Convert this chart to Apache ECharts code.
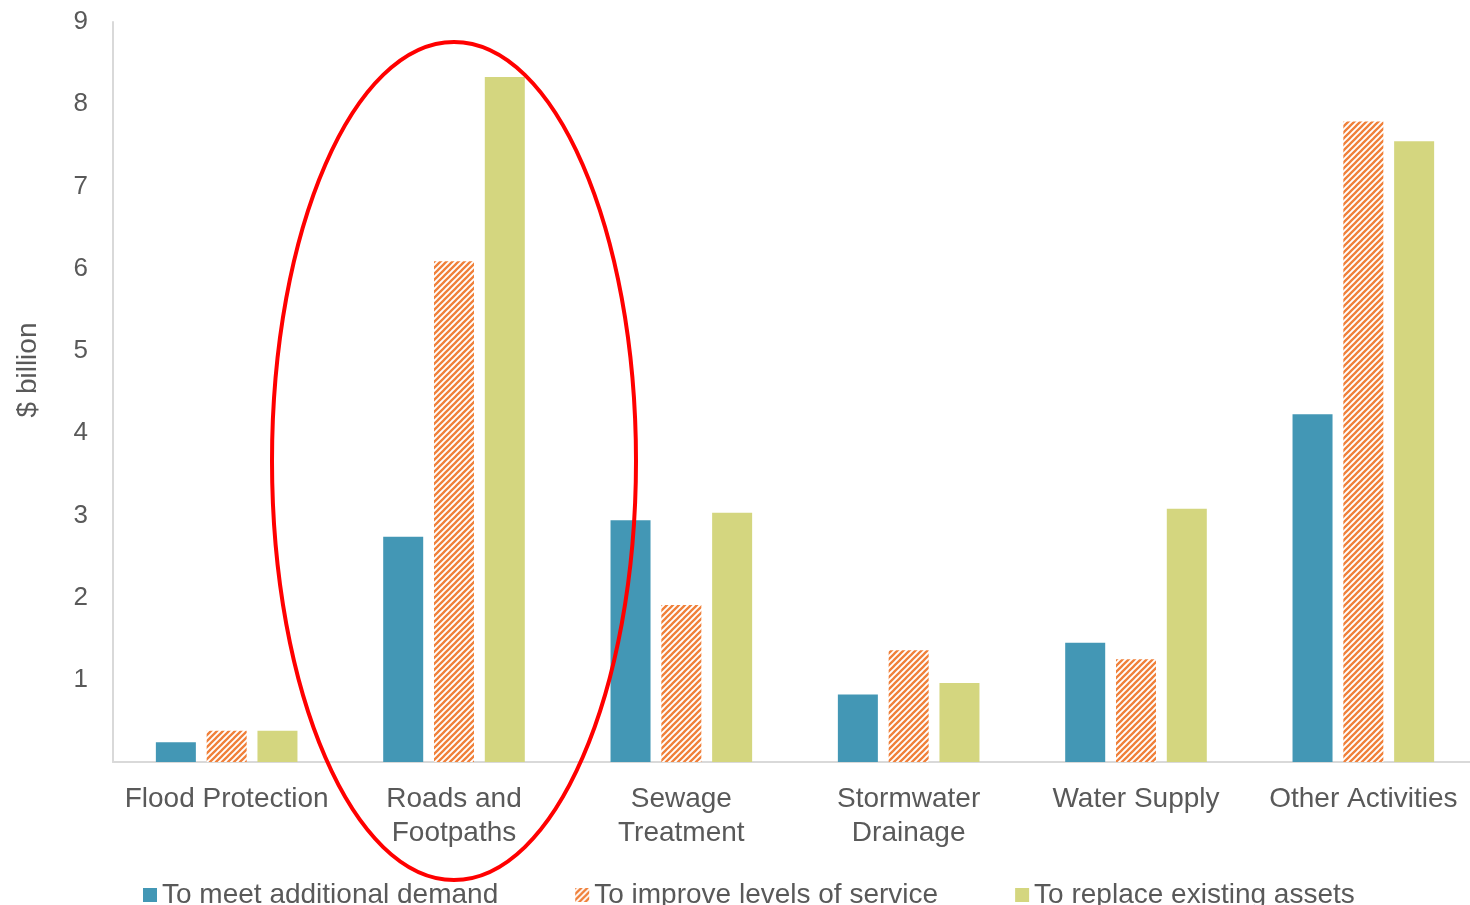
<!DOCTYPE html>
<html>
<head>
    <meta charset="utf-8">
    <title>Capital expenditure by activity</title>
    <script src="https://cdn.jsdelivr.net/npm/echarts@6/dist/echarts.min.js"></script>
    <style>
        html, body { margin: 0; padding: 0; background: #fff; }
        #main { width: 1470px; height: 905px; }
    </style>
</head>
<body>
<div id="main"></div>
<script type="text/javascript">
    // data ($ billion)
    var categories = ['Flood Protection', 'Roads and\nFootpaths', 'Sewage\nTreatment', 'Stormwater\nDrainage', 'Water Supply', 'Other Activities'];
    var seriesNames = ['To meet additional demand', 'To improve levels of service', 'To replace existing assets'];
    var demand = [0.24, 2.74, 2.94, 0.82, 1.45, 4.23];
    var service = [0.38, 6.09, 1.91, 1.36, 1.25, 7.79];
    var replace = [0.38, 8.33, 3.03, 0.96, 3.08, 7.55];
    var yTicks = [0, 1, 2, 3, 4, 5, 6, 7, 8, 9];

    // hatched fill for the "improve" series
    var tile = document.createElement('canvas');
    tile.width = 6;
    tile.height = 6;
    var ctx = tile.getContext('2d');
    ctx.fillStyle = '#ffffff';
    ctx.fillRect(0, 0, 6, 6);
    ctx.strokeStyle = '#F0803A';
    ctx.lineWidth = 2.3;
    ctx.beginPath();
    ctx.moveTo(-1, 7); ctx.lineTo(7, -1);
    ctx.moveTo(-1, 1); ctx.lineTo(1, -1);
    ctx.moveTo(5, 7); ctx.lineTo(7, 5);
    ctx.stroke();

    var myChart = echarts.init(document.getElementById('main'));
    var font = '"Liberation Sans", Arial, sans-serif';

    var option = {
        animation: false,
        textStyle: { fontFamily: font },
        grid: { left: 113, right: -7, top: 22, bottom: 143, outerBoundsMode: 'none' },
        legend: {
            data: seriesNames,
            left: 138,
            top: 876,
            itemWidth: 14,
            itemHeight: 14,
            itemGap: 77,
            icon: 'rect',
            textStyle: { fontSize: 28, color: '#595959', fontFamily: font }
        },
        xAxis: {
            type: 'category',
            data: categories,
            axisLine: { lineStyle: { color: '#d9d9d9', width: 2 } },
            axisTick: { show: false },
            axisLabel: { color: '#595959', fontSize: 28, lineHeight: 34, margin: 20, interval: 0 }
        },
        yAxis: {
            type: 'value',
            min: 0,
            max: 9,
            interval: 1,
            name: '$ billion',
            nameLocation: 'middle',
            nameGap: 71,
            nameTextStyle: { color: '#595959', fontSize: 28, padding: [0, 0, 0, 44] },
            axisLine: { show: true, lineStyle: { color: '#d9d9d9', width: 2 } },
            axisTick: { show: false },
            splitLine: { show: false },
            axisLabel: {
                color: '#595959', fontSize: 26, margin: 25,
                formatter: function (v) { return yTicks.indexOf(v) > 0 ? String(v) : ''; }
            }
        },
        series: [
            {
                name: seriesNames[0], type: 'bar', data: demand,
                barWidth: 40, barGap: '27%',
                itemStyle: { color: '#4397B5' }
            },
            {
                name: seriesNames[1], type: 'bar', data: service,
                barWidth: 40, barGap: '27%',
                itemStyle: { color: { image: tile, repeat: 'repeat' } }
            },
            {
                name: seriesNames[2], type: 'bar', data: replace,
                barWidth: 40, barGap: '27%',
                itemStyle: { color: '#D4D67F' }
            }
        ],
        graphic: [
            {
                type: 'ellipse',
                shape: { cx: 454, cy: 461, rx: 182, ry: 419 },
                style: { fill: 'none', stroke: '#FF0000', lineWidth: 4 },
                z: 100
            }
        ]
    };

    myChart.setOption(option);
</script>
</body>
</html>
